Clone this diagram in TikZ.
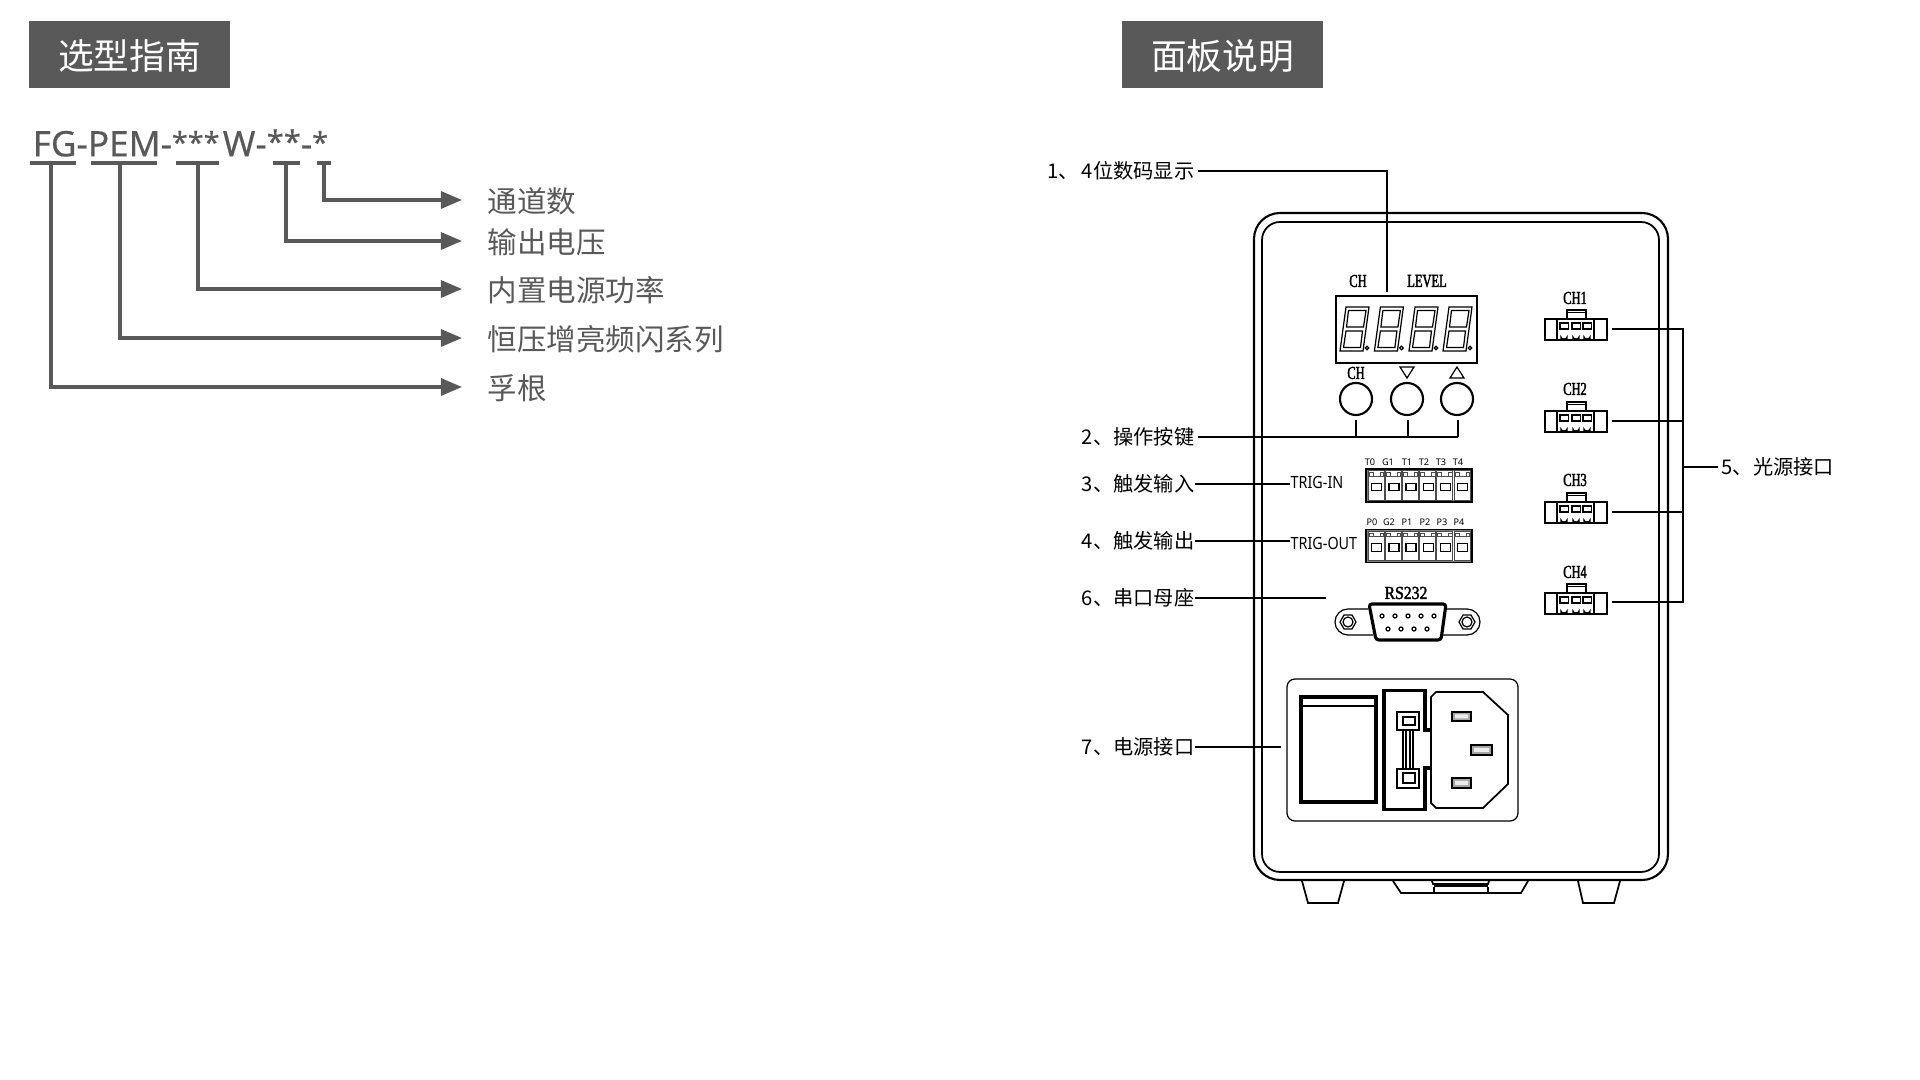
\documentclass[tikz,border=0pt]{standalone}
\usepackage{fontspec}
\setmainfont{Noto Sans CJK SC}
\newfontfamily\latinfont{Noto Sans}
\newfontfamily\partfont[FakeBold=0.4]{Noto Sans}
\newfontfamily\trigfont[FakeStretch=0.85]{Noto Sans}
\newfontfamily\markfont[FakeStretch=0.68,FakeBold=2]{Liberation Serif}
\newfontfamily\rsfont[FakeStretch=0.86,FakeBold=2]{Liberation Serif}
\usetikzlibrary{arrows.meta, positioning}
\definecolor{guidegray}{HTML}{595959}

\begin{document}
\begin{tikzpicture}[
  x=0.01cm, y=-0.01cm,
  titlebox/.style={rectangle, fill=guidegray, text=white, minimum width=2.01cm, minimum height=0.66cm, inner sep=0pt, text height=8.4pt, text depth=0pt, font=\fontsize{10.15pt}{11pt}\selectfont},
  guidelabel/.style={anchor=west, inner sep=0pt, inner xsep=0.25cm, text=guidegray, text height=7.9pt, text depth=0.8pt, font=\fontsize{8.4pt}{10pt}\selectfont},
  tag/.style={anchor=east, inner ysep=0pt, inner xsep=0.03cm, text height=4.6pt, text depth=0.6pt, font=\fontsize{5.75pt}{7pt}\selectfont},
  trig/.style={anchor=west, inner sep=0pt, text height=3.5pt, text depth=0pt, font=\trigfont\fontsize{4.8pt}{6pt}\selectfont},
  silk/.style={inner sep=0pt, font=\markfont\fontsize{5.2pt}{6pt}\selectfont},
  pinname/.style={inner sep=0pt, font=\latinfont\fontsize{2.6pt}{3pt}\selectfont},
  bar/.style={draw=guidegray, line width=0.9pt},
  arrow/.style={draw=guidegray, line width=0.9pt, -{Triangle[length=2.1mm,width=1.7mm]}},
  lead/.style={draw=black, line width=0.5pt},
  hair/.style={draw=black, line width=0.35pt},
  fine/.style={draw=black!70, line width=0.25pt},
  heavy/.style={draw=black, line width=1pt},
  keybtn/.style={draw, circle, line width=0.6pt, minimum size=0.32cm, inner sep=0pt},
  channel/.pic={
    \draw[hair] (0,1) -- (62,1) (0,22) -- (62,22);
    \draw[hair] (0,1) rectangle (12,22) (49,1) rectangle (62,22);
    \draw[hair] (22,0) -- (22,-8) -- (41,-8) -- (41,0) (22,-5.5) -- (41,-5.5);
    \foreach \px in {15,27,38} {
      \draw[line width=0.55pt] (\px,5) rectangle ++(8.5,6);
      \draw[hair] (\px+1,23) -- (\px+1,19) arc[start angle=180, end angle=0, x radius=3, y radius=2] -- (\px+7,23);
    }
  },
  terminal/.pic={
    \draw[hair] (0,0) rectangle (106,33);
    \draw[draw=gray, line width=0.3pt] (1.2,1.2) rectangle (104.8,31.8);
    \foreach \i in {0,...,5} {
      \draw[fine] (2+\i*17.2,1.5) rectangle ++(16,29.5);
      \draw[fine] (3+\i*17.2,3.7) rectangle ++(4,3.3) (14+\i*17.2,3.7) rectangle ++(3.4,3.3);
      \draw[fine] (7+\i*17.2,7) -- ++(7,0);
      \draw[hair] (5.7+\i*17.2,14.3) rectangle ++(10,7.4);
    }
  }
]
\useasboundingbox (0,0) rectangle (1920,1080);

\node[titlebox] (selecttitle) at (129.5,54.5) {选型指南};
\node[titlebox] (paneltitle) at (1222.5,54.5) {面板说明};
\node[anchor=west, inner sep=0pt, text=guidegray, font=\partfont\fontsize{10pt}{11pt}\selectfont] (partno) at (32,143) {FG-PEM-{\fontsize{8.2pt}{10pt}\selectfont\raisebox{1pt}{***}}\hspace{0.9pt}W-{\fontsize{8.8pt}{10pt}\selectfont\raisebox{1pt}{**}}-{\fontsize{8.2pt}{10pt}\selectfont\raisebox{1pt}{*}}};

\node[guidelabel] (lblchan) at (462,200) {通道数};
\node[guidelabel] (lblvolt) at (462,241) {输出电压};
\node[guidelabel] (lblpower) at (462,289) {内置电源功率};
\node[guidelabel] (lblseries) at (462,338) {恒压增亮频闪系列};
\node[guidelabel] (lblroot) at (462,387) {孚根};

\coordinate (stemchan) at (324,163);
\coordinate (stemvolt) at (286,163);
\coordinate (stempower) at (198,163);
\coordinate (stemseries) at (120,163);
\coordinate (stemroot) at (51,163);

\draw[bar] (30,163) -- (76,163);
\draw[bar] (91,163) -- (157,163);
\draw[bar] (176,163) -- (219,163);
\draw[bar] (273,163) -- (300,163);
\draw[bar] (316.5,163) -- (330.5,163);
\draw[arrow] (stemchan) |- (lblchan);
\draw[arrow] (stemvolt) |- (lblvolt);
\draw[arrow] (stempower) |- (lblpower);
\draw[arrow] (stemseries) |- (lblseries);
\draw[arrow] (stemroot) |- (lblroot);

\draw[line width=0.6pt, rounded corners=0.26cm] (1254,213) rectangle (1668,880);
\draw[line width=0.5pt, rounded corners=0.18cm] (1262,222) rectangle (1659,872);
\draw[lead] (1302,881) -- (1308,903) -- (1338,903) -- (1344,881);
\draw[lead] (1578,881) -- (1583,903) -- (1614,903) -- (1620,881);
\draw[lead] (1393,881) -- (1401,893) -- (1521,893) -- (1528,881);
\draw[lead] (1432,881) -- (1433,884) -- (1488,884) -- (1489,881);
\draw[heavy] (1434,885.5) -- (1488,885.5);
\draw[lead] (1434,887) -- (1434,893) (1488,887) -- (1488,893);

\node[silk] (chtop) at (1358,281) {CH};
\node[silk] (leveltop) at (1427,281) {LEVEL};
\draw[line width=0.6pt] (1336,296) rectangle (1477,363);
\foreach \dx in {0,34.4,69,103} {
  \draw[hair] (1340+\dx,351) -- (1346+\dx,307) -- (1369+\dx,307) -- (1363+\dx,351) -- cycle;
  \draw[hair] (1346.5+\dx,327) -- (1348.5+\dx,310.5) -- (1366+\dx,310.5) -- (1363.5+\dx,327) -- cycle;
  \draw[hair] (1343.5+\dx,347.5) -- (1346+\dx,331) -- (1362.5+\dx,331) -- (1360.5+\dx,347.5) -- cycle;
  \draw[hair] (1367+\dx,348) circle[radius=1.8];
}

\node[silk] (chkey) at (1356,373) {CH};
\draw[hair] (1400,367) -- (1414,367) -- (1407,378) -- cycle;
\draw[hair] (1450,378) -- (1464,378) -- (1457,367) -- cycle;
\node[keybtn] (keych) at (1356,399) {};
\node[keybtn] (keydown) at (1407,399) {};
\node[keybtn] (keyup) at (1457,399) {};

\pic at (1366,469) {terminal};
\pic at (1366,529.5) {terminal};
\foreach \tx/\tn in {1370/T0,1388/G1,1407/T1,1424/T2,1441/T3,1458/T4} {
  \node[pinname] at (\tx,462) {\tn};
}
\foreach \tx/\tn in {1372/P0,1389/G2,1407/P1,1425/P2,1442/P3,1459/P4} {
  \node[pinname] at (\tx,522) {\tn};
}

\node[inner sep=0pt, font=\rsfont\fontsize{5.2pt}{6pt}\selectfont] (rslabel) at (1406,593) {RS232};
\draw[hair, fill=white] (1368,609) -- (1348,609) arc[start angle=-90, end angle=-270, radius=13] -- (1373,635);
\draw[hair, fill=white] (1447,609) -- (1467,609) arc[start angle=-90, end angle=90, radius=13] -- (1442,635);
\foreach \sx in {1348,1467} {
  \draw[hair] (\sx-8,622) -- (\sx-4,615) -- (\sx+4,615) -- (\sx+8,622) -- (\sx+4,629) -- (\sx-4,629) -- cycle;
  \draw[hair] (\sx,622) circle[radius=5];
}
\draw[line width=0.9pt, fill=white, rounded corners=0.03cm] (1369,604) -- (1446,604) -- (1441,640) -- (1376,640) -- cycle;
\foreach \ax in {1382,1395,1408,1421,1434} {
  \draw[hair] (\ax,616) circle[radius=2];
}
\foreach \ax in {1388,1401,1414,1427} {
  \draw[hair] (\ax,629) circle[radius=2];
}

\draw[hair, rounded corners=0.08cm] (1287,679) rectangle (1518,821);
\draw[line width=1.1pt] (1301,697) rectangle (1376,802);
\draw[hair] (1303,706) -- (1374,706);
\draw[line width=0.9pt] (1431,730) -- (1425,730) -- (1425,690.5) -- (1384,690.5) -- (1384,809.5) -- (1425,809.5) -- (1425,768) -- (1431,768);
\draw[hair] (1397,712) rectangle (1419,730) (1403,717) rectangle (1415,725);
\draw[hair] (1397,769) rectangle (1419,788) (1403,773) rectangle (1415,783);
\draw[hair] (1403,730) rectangle (1413,769) (1406,730) rectangle (1410,769);
\draw[lead] (1483,692) -- (1508,715) -- (1508,784) -- (1483,808) -- (1436,808) -- (1431,803) -- (1431,697) -- (1436,692) -- cycle;
\draw[lead, fill=gray!70] (1452,712) rectangle (1471,721);
\draw[lead, fill=gray!70] (1471,745) rectangle (1492,755);
\draw[lead, fill=gray!70] (1452,778) rectangle (1471,788);
\fill[gray!15] (1455,714.5) rectangle (1468,718.5) (1474,748) rectangle (1489,752) (1455,781) rectangle (1468,785);

\foreach \cy in {318,410,501,592} {
  \pic at (1545,\cy) {channel};
}
\node[silk] (chone) at (1575,298) {CH1};
\node[silk] (chtwo) at (1575,389) {CH2};
\node[silk] (chthree) at (1575,480) {CH3};
\node[silk] (chfour) at (1575,572) {CH4};

\node[tag] (tagdisp) at (1198,171) {1、\hspace{1pt}4位数码显示};
\node[tag] (tagkeys) at (1198,437) {2、操作按键};
\node[tag, inner xsep=0pt] (tagin) at (1195,484) {3、触发输入};
\node[tag, inner xsep=0pt] (tagout) at (1195,541) {4、触发输出};
\node[tag, inner xsep=0pt] (tagrs) at (1195,598) {6、串口母座};
\node[tag, inner xsep=0pt] (tagpower) at (1195,747) {7、电源接口};
\node[tag, anchor=west] (tagchan) at (1718,467) {5、光源接口};
\node[trig] (trigin) at (1290,482) {TRIG-IN};
\node[trig] (trigout) at (1290,543) {TRIG-OUT};

\coordinate (dispend) at (1387,292);
\coordinate (keyjoin) at (1458,437);
\coordinate (rsend) at (1326,598);
\coordinate (powerend) at (1281,747);
\coordinate (portone) at (1612,329);
\coordinate (porttwo) at (1612,421);
\coordinate (portthree) at (1612,512);
\coordinate (portfour) at (1612,602);
\coordinate (busend) at (1683,602);

\draw[lead] (tagdisp.east) -| (dispend);
\draw[lead] (tagkeys.east) -- (keyjoin);
\draw[lead] (1356,420) -- (1356,437);
\draw[lead] (1408,420) -- (1408,437);
\draw[lead] (keyjoin) -- (1458,420);
\draw[lead] (tagin.east) -- (tagin.east -| trigin.west);
\draw[lead] (tagout.east) -- (tagout.east -| trigout.west);
\draw[lead] (tagrs.east) -- (rsend);
\draw[lead] (tagpower.east) -- (powerend);
\draw[lead] (portone) -| (busend) -- (portfour);
\draw[lead] (porttwo) -- (porttwo -| busend);
\draw[lead] (portthree) -- (portthree -| busend);
\draw[lead] (tagchan.west) -- (tagchan.west -| busend);
\end{tikzpicture}
\end{document}
